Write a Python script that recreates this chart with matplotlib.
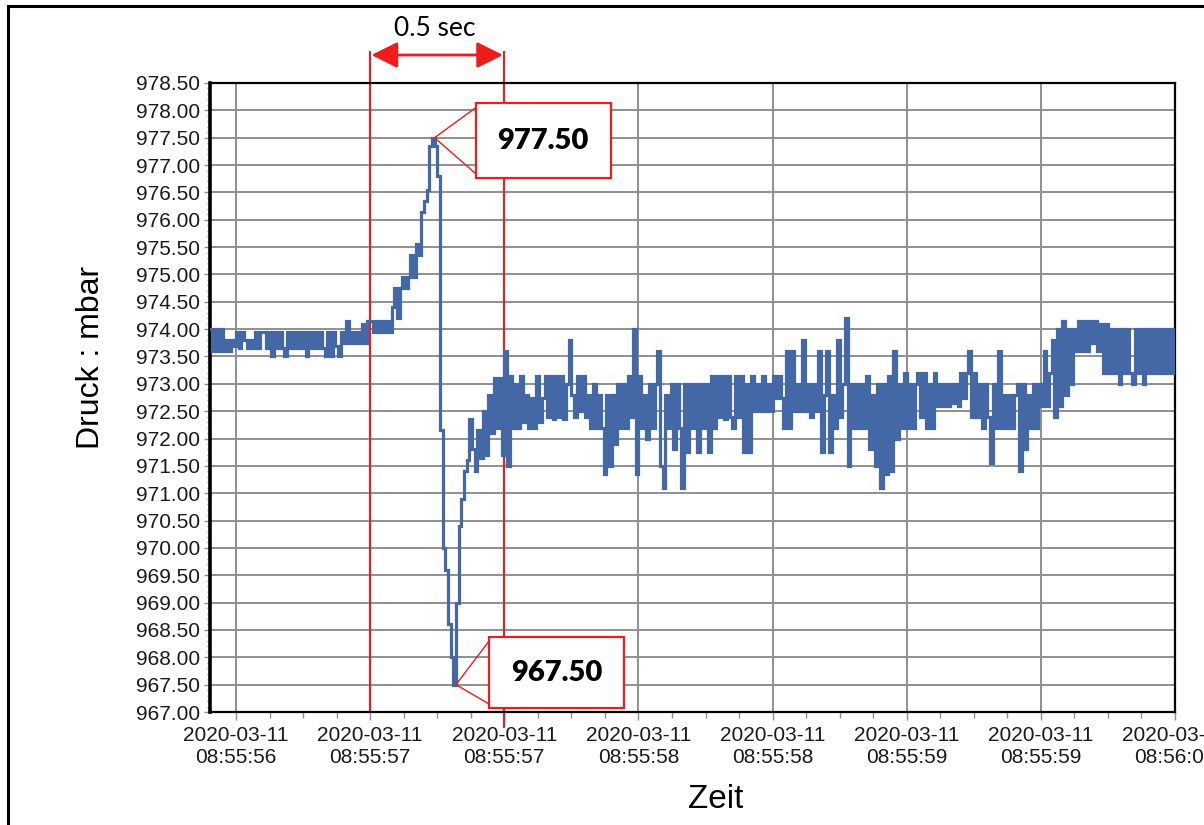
import numpy as np
import matplotlib.pyplot as plt
from matplotlib.patches import Rectangle
from matplotlib.lines import Line2D
from matplotlib.ticker import MultipleLocator, FixedLocator, FuncFormatter

# pressure log, seconds after 08:55:00, one sample every 10 ms
T_START = 56.40
DT = 0.01

# 56.40 .. 56.99 s, steady level
pressure_before = [
    974.0, 973.6, 974.0, 973.6, 974.0, 973.6, 973.8, 973.6, 973.8, 973.7,
    973.95, 973.65, 973.95, 973.8, 973.65, 973.8, 973.65, 973.95, 973.65, 973.95,
    973.95, 973.65, 973.95, 973.5, 973.95, 973.65, 973.95, 973.65, 973.5, 973.95,
    973.65, 973.95, 973.65, 973.95, 973.65, 973.95, 973.5, 973.95, 973.65, 973.95,
    973.65, 973.95, 973.65, 973.5, 973.95, 973.5, 973.95, 973.7, 973.5, 973.95,
    973.75, 974.15, 973.75, 973.95, 973.75, 973.95, 973.75, 974.1, 973.75, 974.15,
]
# 57.00 .. 57.49 s, pressure pulse
pressure_pulse = [
    974.15, 973.95, 974.15, 973.95, 974.15, 973.95, 974.15, 973.95, 974.4, 974.75,
    974.2, 974.75, 974.95, 974.75, 974.95, 975.35, 974.95, 975.55, 975.35, 976.15,
    976.35, 976.55, 977.35, 977.5, 977.35, 976.8, 972.15, 970.0, 969.6, 968.6,
    968.0, 967.5, 969.0, 970.4, 970.9, 971.4, 971.6, 972.35, 971.8, 971.4,
    972.15, 971.65, 972.5, 971.7, 972.8, 972.1, 973.1, 972.2, 973.1, 971.7,
]
# 57.50 .. 60.00 s, new level
pressure_after = [
    973.6, 971.5, 973.15, 972.2, 973.0, 972.2, 973.15, 972.3, 972.8, 972.2,
    972.75, 972.2, 973.15, 972.3, 972.75, 973.15, 972.4, 973.15, 972.35, 973.15,
    972.4, 973.15, 972.35, 973.0, 973.8, 972.8, 972.4, 973.15, 972.5, 973.15,
    972.4, 972.8, 972.2, 973.0, 972.2, 972.8, 972.2, 971.35, 972.8, 971.5,
    972.8, 971.9, 973.0, 972.2, 973.0, 972.2, 973.15, 972.4, 974.0, 971.35,
    973.15, 972.2, 972.8, 972.0, 973.0, 972.2, 973.0, 973.6, 971.5, 971.1,
    972.8, 972.2, 973.0, 971.8, 973.0, 972.2, 971.1, 973.0, 971.75, 973.0,
    972.2, 973.0, 971.75, 973.0, 972.2, 973.0, 971.75, 973.15, 972.2, 973.15,
    972.4, 973.15, 972.35, 973.15, 972.4, 972.2, 973.15, 972.4, 973.15, 971.75,
    973.0, 971.75, 973.15, 972.5, 973.0, 972.5, 973.15, 972.5, 973.0, 972.5,
    973.15, 972.75, 973.15, 972.75, 972.2, 973.6, 972.2, 973.6, 972.5, 973.0,
    972.5, 973.8, 972.5, 973.0, 972.4, 973.0, 972.5, 973.6, 971.75, 972.8,
    973.6, 971.75, 972.8, 972.2, 973.8, 972.4, 973.0, 974.2, 971.5, 973.0,
    972.2, 973.0, 972.2, 973.0, 972.2, 973.15, 971.8, 972.8, 971.5, 973.0,
    971.1, 973.0, 971.35, 973.15, 971.4, 973.6, 972.0, 973.0, 972.2, 973.2,
    972.2, 973.0, 972.2, 973.0, 973.2, 972.4, 973.2, 972.2, 973.0, 972.2,
    973.2, 972.6, 973.0, 972.6, 973.0, 972.6, 973.0, 972.65, 973.0, 972.6,
    973.2, 972.75, 973.2, 973.6, 972.4, 973.2, 972.4, 973.0, 972.2, 973.0,
    972.4, 971.55, 973.0, 972.2, 973.6, 972.2, 972.8, 972.2, 972.8, 972.2,
    972.8, 973.0, 971.4, 973.0, 971.8, 972.8, 972.2, 973.0, 972.2, 973.0,
    972.6, 973.6, 972.6, 973.2, 973.8, 972.4, 974.0, 972.6, 974.15, 972.8,
    974.0, 973.0, 974.0, 973.6, 974.15, 973.6, 974.15, 973.6, 974.15, 973.75,
    974.15, 973.6, 974.1, 973.2, 974.1, 973.2, 974.0, 973.2, 974.0, 973.0,
    974.0, 973.2, 974.0, 973.2, 973.0, 974.0, 973.2, 974.0, 973.0, 974.0,
    973.2, 974.0, 973.2, 974.0, 973.2, 974.0, 973.2, 974.0, 973.2, 974.0,
    973.2,
]

pressure = np.array(pressure_before + pressure_pulse + pressure_after)
seconds = T_START + DT * np.arange(len(pressure))

marker_times = [57.0, 57.5]
marker_text = "0.5 sec"

LINE_BLUE = "#4467a6"
RED = "#ee1c1c"
GRID = "#8f8f8f"
TXT = "#1a1a1a"

fig = plt.figure(figsize=(12.04, 8.25), dpi=100)
ax = fig.add_axes([210 / 1204, 1 - 712 / 825, 965 / 1204, 629 / 825])

ax.plot(seconds, pressure, drawstyle="steps-post", color=LINE_BLUE, lw=2.3,
        solid_joinstyle="miter", zorder=3)

ax.set_xlim(56.403, 60.0)
ax.set_ylim(967.0, 978.5)

ax.xaxis.set_major_locator(FixedLocator(np.arange(56.5, 60.01, 0.5)))
ax.xaxis.set_minor_locator(MultipleLocator(0.125))
ax.yaxis.set_major_locator(MultipleLocator(0.5))
ax.yaxis.set_minor_locator(MultipleLocator(0.1))


def time_label(t, pos):
    total = 8 * 3600 + 55 * 60 + int(t + 1e-6)
    h, rem = divmod(total, 3600)
    m, s = divmod(rem, 60)
    return f"2020-03-11\n{h:02d}:{m:02d}:{s:02d}"


ax.xaxis.set_major_formatter(FuncFormatter(time_label))
ax.yaxis.set_major_formatter(FuncFormatter(lambda v, pos: f"{v:.2f}"))

ax.grid(True, which="major", color=GRID, lw=1.4, zorder=0)
ax.set_axisbelow(True)

ax.tick_params(axis="x", which="major", direction="out", length=6, width=1,
               color=GRID, labelsize=15, labelcolor=TXT, pad=4)
ax.tick_params(axis="x", which="minor", direction="out", length=4, width=1, color=GRID)
ax.tick_params(axis="y", which="major", direction="out", length=4, width=1,
               color=GRID, labelsize=15, labelcolor=TXT, pad=3)
ax.tick_params(axis="y", which="minor", direction="out", length=2, width=1, color=GRID)
for lbl in ax.get_xticklabels() + ax.get_yticklabels():
    lbl.set_fontfamily("Liberation Sans")

for side in ["top", "right", "bottom"]:
    ax.spines[side].set_color("black")
    ax.spines[side].set_linewidth(1.6)
ax.spines["left"].set_color("black")
ax.spines["left"].set_linewidth(2.6)

ax.set_ylabel("Druck : mbar", fontsize=23, family="Liberation Sans")
ax.yaxis.set_label_coords(-0.108, 0.564)
ax.set_xlabel("Zeit", fontsize=24, family="Liberation Sans")
ax.xaxis.set_label_coords(0.524, -0.115)

# red markers for the 0.5 s window
ax.axvline(marker_times[0], ymin=0, ymax=1.049, color=RED, lw=1.5, clip_on=False, zorder=2)
ax.axvline(marker_times[1], ymin=-0.024, ymax=1.049, color=RED, lw=1.5, clip_on=False, zorder=2)
ax.annotate("", xy=(marker_times[1] - 0.005, 1.0445), xytext=(marker_times[0] + 0.005, 1.0445),
            xycoords=("data", "axes fraction"), textcoords=("data", "axes fraction"),
            arrowprops=dict(arrowstyle="<|-|>,head_length=0.8,head_width=0.4", color=RED,
                            lw=2, mutation_scale=20, shrinkA=0, shrinkB=0))
ax.text(sum(marker_times) / 2 - 0.01, 1.087, marker_text, transform=ax.get_xaxis_transform(),
        ha="center", va="center", fontsize=19, family="Lato")


def callout(ax, point, box, text):
    x0, y0, x1, y1 = box
    ax.add_patch(Rectangle((x0, y0), x1 - x0, y1 - y0, facecolor="white",
                           edgecolor=RED, lw=1.6, zorder=6))
    ax.plot([x0, point[0], x0], [y1 - 0.08, point[1], y0 + 0.08], color=RED, lw=1.0, zorder=6)
    ax.text((x0 + x1) / 2, (y0 + y1) / 2, text, ha="center", va="center",
            fontsize=21, fontweight="heavy", family="Lato", zorder=7)


i_max = int(np.argmax(pressure))
i_min = int(np.argmin(pressure))
callout(ax, (seconds[i_max] + DT, pressure[i_max]), (57.394, 976.76, 57.896, 978.13),
        f"{pressure[i_max]:.2f}")
callout(ax, (seconds[i_min] + DT, pressure[i_min]), (57.442, 967.07, 57.948, 968.37),
        f"{pressure[i_min]:.2f}")

# frame of the screenshot
fig.add_artist(Line2D([8 / 1204, 1.0], [1 - 6 / 825] * 2, color="black", lw=2.2,
                      transform=fig.transFigure))
fig.add_artist(Line2D([8 / 1204] * 2, [0.0, 1 - 6 / 825], color="black", lw=2.2,
                      transform=fig.transFigure))

fig.savefig("out.png", dpi=100)
